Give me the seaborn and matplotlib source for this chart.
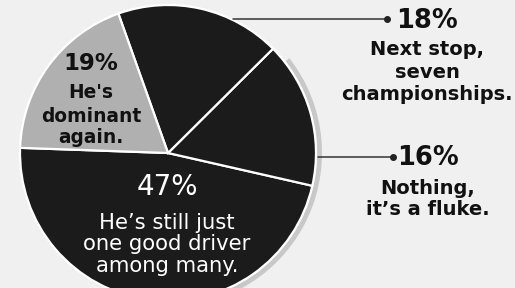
import matplotlib
matplotlib.use("Agg")
import matplotlib.pyplot as plt
from matplotlib.patches import Wedge
import seaborn as sns

# poll results, in drawing order (counter-clockwise from the left)
shares = [47, 16, 18, 19]
answers = [
    ["He\u2019s still just", "one good driver", "among many."],
    ["Nothing,", "it\u2019s a fluke."],
    ["Next stop,", "seven", "championships."],
    ["He's", "dominant", "again."],
]
slice_colors = ["#1b1b1b", "#1b1b1b", "#1b1b1b", "#b0b0b0"]

sns.set_theme(style="white")
plt.rcParams["font.family"] = ["DejaVu Sans"]

W, H = 515, 288
fig = plt.figure(figsize=(W / 100, H / 100), dpi=100)
fig.patch.set_facecolor("#f0f0f0")
ax = fig.add_axes([0, 0, 1, 1])
ax.set_facecolor("#f0f0f0")

cx, cy, r = 168, H - 153, 148

# faint grey rim on the lower right side of the pie
ax.add_patch(Wedge((cx, cy), r + 6, -95, 38, width=5, facecolor="#c8c8c8",
                   edgecolor="none", zorder=0))

wedges, _ = ax.pie(shares, colors=slice_colors, startangle=178, counterclock=True,
                   center=(cx, cy), radius=r,
                   wedgeprops=dict(edgecolor="white", linewidth=1.6))

ax.set_xlim(0, W)
ax.set_ylim(0, H)
ax.set_aspect("equal")
ax.axis("off")


def label_block(x, baselines, pct, lines, pct_size, size, color, pct_weight, weight):
    ax.text(x, H - baselines[0], f"{pct}%", ha="center", va="baseline",
            fontsize=pct_size, color=color, fontweight=pct_weight)
    for yb, line in zip(baselines[1:], lines):
        ax.text(x, H - yb, line, ha="center", va="baseline",
                fontsize=size, color=color, fontweight=weight)


# inside labels
label_block(167, [195, 229, 250, 272], shares[0], answers[0], 20, 15.2,
            "white", "normal", "normal")
label_block(91, [70, 98, 122, 143], shares[3], answers[3], 16.5, 13.4,
            "#111111", "bold", "bold")

# outside labels with leader lines
label_block(427, [28, 55, 78, 100], shares[2], answers[2], 18.5, 14,
            "#111111", "bold", "bold")
label_block(428, [165, 194, 215], shares[1], answers[1], 18.5, 14,
            "#111111", "bold", "bold")

ax.plot([233, 387], [H - 19, H - 19], color="#333333", lw=1.1, zorder=5)
ax.plot([387], [H - 19], "o", color="#222222", ms=4, zorder=5)
ax.plot([318, 393], [H - 157, H - 157], color="#333333", lw=1.1, zorder=5)
ax.plot([393], [H - 157], "o", color="#222222", ms=4, zorder=5)

fig.savefig("out.png", dpi=100, facecolor=fig.get_facecolor())
